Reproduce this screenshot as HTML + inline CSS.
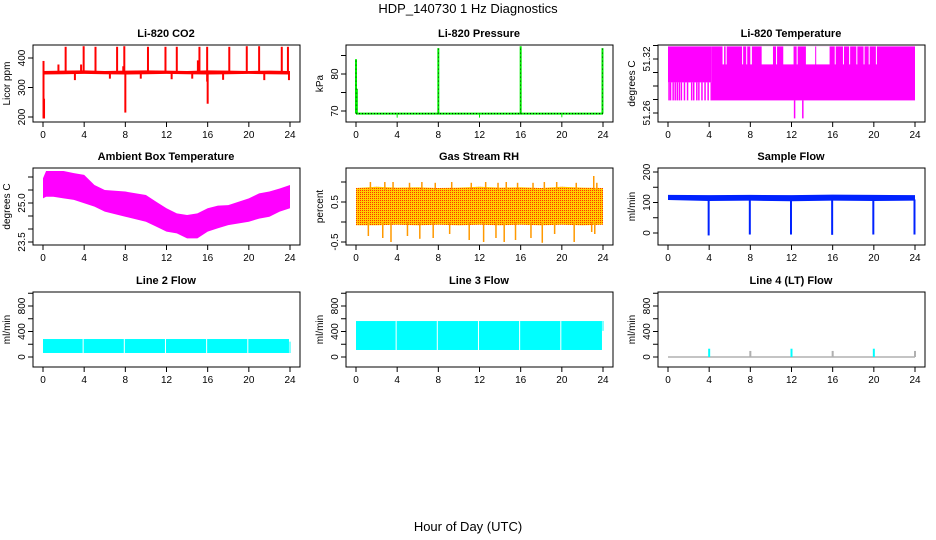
<!DOCTYPE html>
<html><head><meta charset="utf-8">
<style>
body{margin:0;background:#fff;}
svg{display:block;font-family:"Liberation Sans",sans-serif;}
.tl{font-size:10px;fill:#000;}
.pt{font-size:11px;font-weight:bold;fill:#000;}
</style></head>
<body>
<svg id="chart" width="936" height="540" viewBox="0 0 936 540" xmlns="http://www.w3.org/2000/svg">
<defs>
<pattern id="rhpat" width="2" height="2" patternUnits="userSpaceOnUse">
<rect width="2" height="2" fill="#ffcc00"/><rect width="1" height="1" fill="#ff3300"/>
</pattern>
</defs>
<text x="468" y="13" text-anchor="middle" font-size="13">HDP_140730  1 Hz Diagnostics</text>
<text x="468" y="531" text-anchor="middle" font-size="13">Hour of Day (UTC)</text>
</svg>
<script>
// ---- data ----
const xTicks = [0,4,8,12,16,20,24];
// CO2
const co2BaseHours = [0,2,4,6,8,10,12,14,16,18,20,22,24];
const co2BaseLo = [344,345,346,345,344,345,346,345,344,345,346,345,344];
const co2BaseHi = [356,357,358,356,357,358,357,356,358,357,356,357,356];
const co2SpikeHours = [0.05,0.1,1.5,2.2,3.7,3.95,5.1,7.2,7.8,7.9,8.0,10.2,11.9,13.0,15.05,15.2,15.95,16.0,18.1,19.8,21.0,23.2,23.8,23.9,3.1,6.5,9.5,12.5,14.5,17.5,21.5];
const co2SpikeHi = [390,262,378,438,378,440,438,438,372,440,350,438,438,438,392,438,438,350,438,440,440,438,438,350,350,350,350,350,350,350,350];
const co2SpikeLo = [195,195,350,350,350,350,350,350,350,350,215,350,350,350,350,350,320,245,350,350,350,350,350,325,325,330,330,328,330,326,325];
// Pressure
const presBase = 69.3;
const presSpikeHours = [0,0.08,8,16,23.95];
const presSpikeVals = [84,76,87,87.5,87];
const presDipHours = [4,12,20];
const presDipVals = [68.2,68.2,68.3];
// Li-820 temperature (quantized levels)
const tempLevels = [51.254,51.274,51.294,51.314,51.334];
const tempTopGaps = [[5.3,5.45],[5.6,5.7],[7.2,7.3],[7.6,7.65],[8.0,8.15],[9.1,10.2],[10.5,10.55],[11.2,12.2],[12.5,12.55],[13.4,14.3],[14.4,15.7],[16.2,16.25],[17.0,17.05],[17.6,17.65],[18.3,18.35],[19.0,19.05],[19.5,19.55],[20.2,20.25]];
const tempTeeth = [0.1,0.25,0.5,0.7,0.9,1.1,1.3,1.6,1.9,2.3,2.5,2.8,3.0,3.3,3.6,3.9,4.2];
const tempDips = [12.3,13.1];
// Ambient box temperature
const ambHours = [0,0.3,1,2,3,4,5,6,8,10,11,12,13,14,15,16,17,18,20,21,22,23,24];
const ambTop = [25.95,26.23,26.23,26.23,26.15,26.08,25.69,25.5,25.44,25.31,25.05,24.8,24.6,24.54,24.6,24.8,24.9,24.92,25.18,25.37,25.44,25.56,25.69];
const ambBot = [25.18,25.24,25.24,25.18,25.12,24.99,24.86,24.67,24.47,24.28,24.09,23.9,23.83,23.64,23.64,23.9,24.03,24.15,24.28,24.4,24.47,24.67,24.8];
// Gas stream RH
const rhHours = [0,2,4,6,8,10,12,14,16,18,20,22,24];
const rhTop = [0.85,0.88,0.86,0.87,0.85,0.86,0.88,0.86,0.87,0.85,0.88,0.86,0.85];
const rhBot = [-0.08,-0.08,-0.07,-0.08,-0.07,-0.08,-0.07,-0.08,-0.07,-0.08,-0.07,-0.08,-0.07];
const rhSpikeHours = [1.2,2.6,3.4,5.0,6.2,7.5,9.1,11.0,12.4,13.6,14.4,15.5,17.0,18.1,19.3,21.2,22.9,23.2];
const rhSpikeLo = [-0.35,-0.4,-0.5,-0.35,-0.42,-0.4,-0.3,-0.45,-0.5,-0.4,-0.5,-0.45,-0.4,-0.52,-0.3,-0.5,-0.25,-0.3];
const rhSpikeHi = [1.0,1.0,1.0,0.98,1.0,0.98,1.0,0.98,1.0,0.98,1.0,0.98,0.98,1.0,1.0,0.98,1.15,0.98];
// Sample flow
const sfHours = [0,4,8,12,16,20,24];
const sfLo = [108,105,106,104,106,105,106];
const sfHi = [125,124,125,124,126,125,124];
const sfDropHours = [3.95,7.95,11.95,15.95,19.95,23.95];
const sfDropVals = [-8,-5,-5,-6,-5,-5];
// Line flows
const l2Lo = 63, l2Hi = 282;
const l3Lo = 110, l3Hi = 564;
const flowGaps = [4,8,12,16,20];
const l4SpikeHours = [4,8,12,16,20,24];
const l4SpikeVals = [130,95,130,95,130,95];

// ---- drawing ----
const svg = document.getElementById('chart');
const NS = 'http://www.w3.org/2000/svg';
function mk(tag, attrs, parent){const e=document.createElementNS(NS,tag);for(const k in attrs)e.setAttribute(k,attrs[k]);(parent||svg).appendChild(e);return e;}
const colX=[33,346,658], rowY=[[45,122],[168,245],[292,367]];
function makePanel(c,r,title,ylab,v1,p1,v2,p2,ticks,labels,name){
  const x0=colX[c], x1=x0+267, y0=rowY[r][0], y1=rowY[r][1];
  const g=mk('g',{});
  
  
  const xs=h=>x0+10+h*(247/24);
  const ys=v=>p1+(v-v1)*(p2-p1)/(v2-v1);
  const t=mk('text',{x:x0+133,y:y0-8,'text-anchor':'middle','class':'pt'},g);t.textContent=title;
  
  
  const yt=mk('text',{transform:`translate(${x0-23},${(y0+y1)/2}) rotate(-90)`,'text-anchor':'middle','class':'tl'},g);yt.textContent=ylab;
  
  
  xTicks.forEach(h=>{
    mk('line',{x1:xs(h),x2:xs(h),y1:y1,y2:y1+5,stroke:'#000'},g);
    const l=mk('text',{x:xs(h),y:y1+16,'text-anchor':'middle','class':'tl'},g);l.textContent=h;
    
    
  });
  ticks.forEach(v=>{mk('line',{x1:x0-5,x2:x0,y1:ys(v),y2:ys(v),stroke:'#000'},g);});
  labels.forEach(v=>{
    const l=mk('text',{transform:`translate(${x0-8},${ys(v)}) rotate(-90)`,'text-anchor':'middle','class':'tl'},g);l.textContent=v;
    
    
  });
  const d=mk('g',{},g);
  
  
  mk('rect',{x:x0,y:y0,width:267,height:y1-y0,fill:'none',stroke:'#000'},g);
  return {xs,ys,d};
}
function vline(p,h,a,b,col,w,dash){const e=mk('line',{x1:p.xs(h),x2:p.xs(h),y1:p.ys(a),y2:p.ys(b),stroke:col,'stroke-width':w||1},p.d);if(dash)e.setAttribute('stroke-dasharray',dash);}
function band(p,hours,lo,hi,fill){
  let pts=hours.map((h,i)=>p.xs(h)+','+p.ys(hi[i]));
  for(let i=hours.length-1;i>=0;i--)pts.push(p.xs(hours[i])+','+p.ys(lo[i]));
  mk('polygon',{points:pts.join(' '),fill:fill},p.d);
}

// CO2
let p=makePanel(0,0,'Li-820 CO2','Licor ppm',400,58,200,117,[200,300,400],['200','300','400'],'co2');
band(p,co2BaseHours,co2BaseLo,co2BaseHi,'#ff0000');
co2SpikeHours.forEach((h,i)=>vline(p,h,co2SpikeLo[i],co2SpikeHi[i],'#ff0000',2));

// Pressure
p=makePanel(1,0,'Li-820 Pressure','kPa',80,74,70,111,[70,75,80,85],['70','80'],'pressure');
mk('line',{x1:p.xs(0),x2:p.xs(24),y1:p.ys(presBase),y2:p.ys(presBase),stroke:'#00ee00','stroke-width':2},p.d);
mk('line',{x1:p.xs(0),x2:p.xs(24),y1:p.ys(presBase),y2:p.ys(presBase),stroke:'#000','stroke-width':1,'stroke-dasharray':'1 2'},p.d);
presSpikeHours.forEach((h,i)=>{vline(p,h,presBase,presSpikeVals[i],'#00ee00',2);vline(p,h,presBase,presSpikeVals[i],'#000',0.7,'1 3');});
presDipHours.forEach((h,i)=>vline(p,h,presDipVals[i],presBase,'#00ee00',1));

// Li-820 temperature
p=makePanel(2,0,'Li-820 Temperature','degrees C',51.32,59,51.26,113,[51.26,51.275,51.29,51.305,51.32,51.335],['51.26','51.32'],'li820-temp');
(function(){
  const L=tempLevels;
  mk('rect',{x:p.xs(4.25),y:p.ys(L[4]),width:p.xs(24)-p.xs(4.25),height:p.ys(L[1])-p.ys(L[4]),fill:'#ff00ff'},p.d);
  mk('rect',{x:p.xs(0),y:p.ys(L[4]),width:p.xs(4.25)-p.xs(0),height:p.ys(L[2])-p.ys(L[4]),fill:'#ff00ff'},p.d);
  tempTopGaps.forEach(g=>mk('rect',{x:p.xs(g[0]),y:p.ys(L[4]),width:Math.max(1,p.xs(g[1])-p.xs(g[0])),height:p.ys(L[3])-p.ys(L[4]),fill:'#fff'},p.d));
  tempTeeth.forEach(h=>vline(p,h,L[1],L[2],'#ff00ff',1.5));
  tempDips.forEach(h=>vline(p,h,L[0],L[1],'#ff00ff',1.5));
})();

// Ambient box temperature
p=makePanel(0,1,'Ambient Box Temperature','degrees C',25,203,23.5,242,[23.5,24,24.5,25,25.5,26],['23.5','25.0'],'ambient-temp');
band(p,ambHours,ambBot,ambTop,'#ff00ff');

// Gas stream RH
p=makePanel(1,1,'Gas Stream RH','percent',0.5,202,-0.5,242,[-0.5,0,0.5,1.0],['-0.5','0.5'],'gas-rh');
band(p,rhHours,rhBot,rhTop,'url(#rhpat)');
rhSpikeHours.forEach((h,i)=>{vline(p,h,rhSpikeLo[i],0,'#ff9900',1.5);vline(p,h+0.2,0.8,rhSpikeHi[i],'#ff9900',1.5);});

// Sample flow
p=makePanel(2,1,'Sample Flow','ml/min',200,172,0,233,[0,50,100,150,200],['0','100','200'],'sample-flow');
band(p,sfHours,sfLo,sfHi,'#0022ff');
sfDropHours.forEach((h,i)=>vline(p,h,sfDropVals[i],110,'#0022ff',2));

// Line 2
p=makePanel(0,2,'Line 2 Flow','ml/min',800,306,0,357,[0,200,400,600,800,1000],['0','400','800'],'line2-flow');
mk('rect',{x:p.xs(0),y:p.ys(l2Hi),width:p.xs(23.9)-p.xs(0),height:p.ys(l2Lo)-p.ys(l2Hi),fill:'#00ffff'},p.d);
flowGaps.forEach(h=>vline(p,h-0.1,l2Lo,l2Hi,'#fff',1));
vline(p,24,l2Lo,l2Hi-40,'#00ffff',1);

// Line 3
p=makePanel(1,2,'Line 3 Flow','ml/min',800,306,0,357,[0,200,400,600,800,1000],['0','400','800'],'line3-flow');
mk('rect',{x:p.xs(0),y:p.ys(l3Hi),width:p.xs(23.9)-p.xs(0),height:p.ys(l3Lo)-p.ys(l3Hi),fill:'#00ffff'},p.d);
flowGaps.forEach(h=>vline(p,h-0.1,l3Lo,l3Hi,'#fff',1));
vline(p,24,l3Lo+300,l3Hi,'#00ffff',1);

// Line 4
p=makePanel(2,2,'Line 4 (LT) Flow','ml/min',800,306,0,357,[0,200,400,600,800,1000],['0','400','800'],'line4-flow');
mk('line',{x1:p.xs(0),x2:p.xs(24),y1:p.ys(0),y2:p.ys(0),stroke:'#b0b0b0','stroke-width':1.5},p.d);
l4SpikeHours.forEach((h,i)=>vline(p,h,0,l4SpikeVals[i],i%2===0?'#00ffff':'#b0b0b0',2));
</script>
</body></html>
